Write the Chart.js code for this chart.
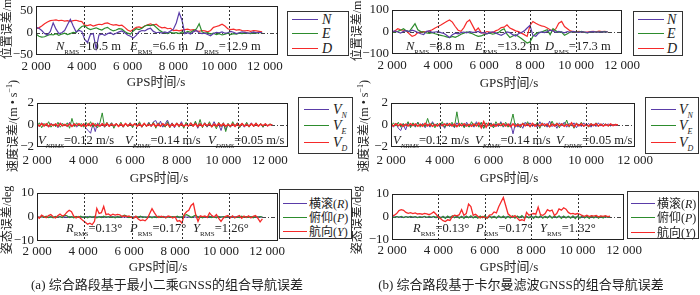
<!DOCTYPE html>
<html><head><meta charset="utf-8">
<script src="https://cdn.jsdelivr.net/npm/chart.js@4.4.0/dist/chart.umd.min.js"></script>
<style>
html,body{margin:0;padding:0;background:#fff;}
#wrap{position:relative;width:700px;height:295px;overflow:hidden;font-family:'Liberation Serif','Noto Sans CJK SC',serif;color:#222;}
#wrap canvas{position:absolute;}
.t{position:absolute;white-space:nowrap;font-size:13px;line-height:13px;}
.sb{font-size:7px;position:relative;top:4px;}
.lg{position:absolute;box-sizing:border-box;border:1px solid #333;background:#fff;}
.lg .ln{position:absolute;height:0;border-top:1.5px solid;}
.lg .lt{position:absolute;white-space:nowrap;font-size:13px;line-height:14px;}
.lg .sb{font-size:8px;}
.yt{position:absolute;white-space:nowrap;font-size:12px;line-height:12px;transform:translate(-50%,-50%) rotate(-90deg);}
</style></head>
<body><div id="wrap"></div>
<script>
// ---------- data ----------
const xTickVals = [2000,4000,6000,8000,10000,12000];
const yTicksPosA = [-50,0,50];
const yTicksPosB = [-100,0,100];
const yTicksVel = [-2,0,2];
const yTicksAtt = [-10,0,10];

const tPos = [2000,2125,2250,2375,2500,2625,2750,2875,3000,3125,3250,3375,3500,3625,3750,3875,4000,4125,4250,4375,4500,4625,4750,4875,5000,5125,5250,5375,5500,5625,5750,5875,6000,6125,6250,6375,6500,6625,6750,6875,7000,7125,7250,7375,7500,7625,7750,7875,8000,8125,8250,8375,8500,8625,8750,8875,9000,9125,9250,9375,9500,9625,9750,9875,10000,10125,10250,10375,10500,10625,10750,10875,11000,11125,11250,11375,11500,11625,11750,11875];
const tFine = [2000,2100,2200,2300,2400,2500,2600,2700,2800,2900,3000,3100,3200,3300,3400,3500,3600,3700,3800,3900,4000,4100,4200,4300,4400,4500,4600,4700,4800,4900,5000,5100,5200,5300,5400,5500,5600,5700,5800,5900,6000,6100,6200,6300,6400,6500,6600,6700,6800,6900,7000,7100,7200,7300,7400,7500,7600,7700,7800,7900,8000,8100,8200,8300,8400,8500,8600,8700,8800,8900,9000,9100,9200,9300,9400,9500,9600,9700,9800,9900,10000,10100,10200,10300,10400,10500,10600,10700,10800,10900,11000,11100,11200,11300,11400,11500,11600,11700,11800,11900,12000,12100];

// (a) least squares GNSS: position errors / m
const posN_a = [12,10,5,-2,-5,3,22,8,-2,0, 5,18,30,15,2,5,3,-15,-22,-4, -2,-36,-5,-3,-6,-2,0,-4,-1,2, 4,0,-5,-8,-12,-6,2,5,4,8, 10,3,0,1,-1,2,0,4,8,22, 45,28,-2,0,-3,2,5,0,-2,-1, -4,-7,-2,1,0,2,-1,0,3,1, -2,0,2,1,-1,0,2,0,1,0];
const posE_a = [-3,-8,-10,-9,-6,-4,-5,-2,-6,-3, -1,-4,-2,1,0,8,14,16,10,7, 9,11,8,6,10,12,7,4,6,9, 8,3,-1,-3,4,9,7,10,15,17, 16,18,12,6,2,0,-2,1,-1,0, -2,2,0,3,1,5,8,20,2,-1, 0,-3,-1,-4,-2,-5,-3,-1,-4,-2, -3,-1,-2,0,-1,-2,0,-1,0,0];
const posD_a = [9,11,15,20,24,27,28,29,27,28, 26,27,25,27,28,26,25,17,16,18, 15,17,19,18,21,22,19,17,18,16, 17,12,6,3,8,12,13,11,15,18, 20,17,19,14,11,12,9,10,5,6, 4,6,7,8,6,7,4,3,5,4, 2,5,12,14,16,19,15,9,7,8, 6,7,5,4,5,3,5,4,3,2];
// (b) Kalman filter GNSS: position errors / m
const posN_b = [2,5,0,-5,3,6,2,8,4,-2, -8,-12,3,5,-2,0,2,-3,-6,-15, -25,-12,-5,-8,-3,0,-4,2,-2,0, 3,-5,-2,-8,-3,1,-4,-10,-15,-8, 0,-3,-12,-18,-8,-2,5,18,30,-15, -20,-5,0,-3,2,8,5,-2,3,0, -4,2,-1,3,0,-2,1,0,-3,1, 2,0,-1,1,0,1];
const posE_b = [-2,0,3,8,15,5,2,20,38,10, 2,0,-4,-6,-3,-8,-12,-15,-18,-22, -26,-20,-24,-18,-10,-5,0,-4,-8,-15, -20,-18,-12,-8,-5,-10,-6,-3,8,15, -10,-25,-18,-12,-20,-30,-40,-50,-45,-20, -8,-2,0,5,10,-12,15,5,-2,0, -15,-8,0,2,-1,0,3,-2,-4,0, 2,-1,0,1,2,0];
const posD_b = [-3,5,15,10,8,5,-8,-20,-15,-3, 0,2,0,5,10,18,25,32,40,48, 55,45,25,8,3,20,45,55,30,5, 18,-2,-5,2,0,-3,5,10,20,22, 33,18,12,5,2,-5,-12,-20,30,48, 40,33,28,25,18,10,5,15,40,48, 25,15,5,2,0,3,1,-2,0,2, 3,1,4,2,3,1];

// velocity errors / (m/s)
const velN_a = [0.1,-0.15,0.2,-0.1,0.05,-0.2,0.15,-0.05,0.1,-0.25, 0.2,-0.1,0.05,-0.15,0.25,-0.1,0.1,-0.2,0.05,-0.1, 0.15,-0.3,-0.5,-0.75,0.1,-0.6,0.2,-0.1,0.15,-0.2, 0.1,-0.05,0.2,-0.15,0.1,-0.1,0.05,-0.2,0.15,-0.1, 0.2,-0.15,0.1,-0.05,0.15,-0.2,0.1,-0.1,0.25,-0.15, 0.3,0.4,-0.1,0.35,-0.2,0.1,0.45,-0.1,0.2,-0.25, 0.15,-0.1,0.3,-0.2,0.1,-0.15,0.2,-0.1,0.25,-0.3, 0.15,-0.1,0.2,-0.2,0.1,-0.15,0.3,-0.1,0.05,-0.5, 0.2,-0.45,0.1,-0.2,0.15,-0.1,0.2,-0.15,0.1,-0.2, 0.15,-0.1,0.2,-0.15,0.1,-0.1,0.05,-0.2,0.1,-0.1, 0.05,0];
const velE_a = [-0.1,0.2,-0.25,0.15,-0.1,0.3,-0.2,0.1,-0.15,0.25, -0.2,0.15,-0.1,0.2,-0.3,0.6,-0.15,0.2,-0.1,0.15, -0.2,0.25,-0.1,0.3,-0.2,0.15,-0.25,0.2,1.1,-0.2, 0.25,-0.15,0.2,-0.3,0.15,-0.1,0.25,-0.2,0.1,-0.15, 0.2,-0.25,0.15,-0.1,0.3,-0.2,0.1,-0.15,0.2,-0.1, 0.25,-0.3,0.2,-0.15,0.1,-0.2,0.3,-0.25,0.15,-0.1, 0.2,-0.2,0.15,-0.3,0.25,-0.1,0.2,-0.15,0.35,-0.2, 0.5,-0.25,0.2,-0.15,0.3,-0.2,0.1,-0.35,0.25,-0.15, 0.2,-0.6,0.15,-0.2,0.3,-0.1,0.2,-0.25,0.15,-0.1, 0.25,-0.2,0.1,-0.15,0.2,-0.1,0.15,-0.2,0.1,-0.05, 0.1,0];
const velD_a = [0.05,-0.1,0.12,-0.08,0.1,-0.12,0.08,-0.05,0.1,-0.1, 0.12,-0.08,0.05,-0.1,0.08,-0.12,0.1,-0.05,0.12,-0.1, 0.08,-0.12,0.1,-0.08,0.15,-0.1,0.05,-0.12,0.1,-0.08, 0.12,-0.1,0.08,-0.05,0.1,-0.12,0.08,-0.1,0.12,-0.08, 0.1,-0.05,0.12,-0.1,0.08,-0.12,0.15,-0.1,0.05,-0.08, 0.1,-0.12,0.08,-0.1,0.12,-0.05,0.1,-0.15,0.08,-0.1, 0.12,-0.08,0.1,-0.12,0.05,-0.1,0.15,-0.08,0.1,-0.12, 0.08,-0.1,0.12,-0.05,0.1,-0.15,0.08,-0.1,0.12,-0.08, 0.1,-0.12,0.05,-0.1,0.08,-0.12,0.1,-0.08,0.12,-0.1, 0.05,-0.12,0.1,-0.08,0.12,-0.1,0.08,-0.05,0.1,-0.08, 0.05,0];
const velN_b = [0.1,-0.2,0.15,-0.3,-0.5,0.1,-0.45,0.2,-0.15,0.1, -0.2,0.25,-0.1,0.15,-0.25,0.1,-0.2,0.3,-0.1,0.15, -0.2,0.1,-0.3,0.2,-0.15,0.1,-0.25,0.2,-0.1,0.15, -0.2,0.25,-0.15,0.1,-0.2,0.3,-0.1,0.2,-0.3,0.15, -0.1,0.2,-0.25,0.1,-0.15,0.3,-0.2,0.1,-0.15,0.2, -0.8,0.15,-0.2,0.1,-0.3,0.25,-0.1,0.2,-0.15,0.1, -0.25,0.3,-0.1,0.15,-0.2,0.35,-0.15,0.1,-0.3,0.2, -0.1,0.25,-0.2,0.15,-0.1,0.2,-0.25,0.1,-0.15,0.2, -0.1,0.15,-0.2,0.1,-0.15,0.2,-0.1,0.15,-0.05,0.1, -0.1,0.05,-0.05,0];
const velE_b = [-0.15,0.2,-0.1,0.25,-0.2,0.15,-0.1,0.3,-0.25,0.2, -0.15,0.25,-0.2,0.1,-0.15,0.6,-0.1,0.2,-0.25,0.15, -0.1,0.3,-0.2,0.15,-0.1,0.25,-0.2,1.2,-0.15,0.2, -0.25,0.1,-0.2,0.3,-0.1,0.15,-0.2,0.25,-0.3,0.2, -0.1,0.15,-0.25,0.3,-0.1,0.2,-0.15,0.25,-0.2,0.1, 1.0,-0.2,0.15,-0.25,0.2,-0.1,0.3,-0.2,0.15,-0.1, 0.25,-0.3,0.2,-0.15,0.1,-0.2,0.35,-0.1,0.2,-0.25, 0.15,-0.1,0.45,-0.2,0.15,-0.3,0.2,-0.1,0.25,-0.15, 0.1,-0.2,0.15,-0.1,0.2,-0.15,0.1,-0.05,0.1,-0.1, 0.05,-0.05,0.05,0];
const velD_b = [0.05,-0.1,0.12,-0.08,0.1,-0.12,0.08,-0.1,0.12,-0.05, 0.1,-0.12,0.08,-0.1,0.15,-0.08,0.1,-0.12,0.05,-0.1, 0.12,-0.08,0.1,-0.05,0.12,-0.1,0.08,-0.15,0.1,-0.08, 0.12,-0.1,0.05,-0.12,0.1,-0.08,0.2,-0.25,0.3,-0.2, 0.15,-0.1,0.08,-0.12,0.1,-0.05,0.12,-0.1,0.08,-0.15, 0.1,-0.12,0.05,-0.1,0.12,-0.08,0.1,-0.12,0.15,-0.1, 0.08,-0.1,0.12,-0.05,0.1,-0.15,0.08,-0.1,0.12,-0.08, 0.1,-0.12,0.05,-0.1,0.2,-0.15,0.1,-0.08,0.12,-0.1, 0.08,-0.12,0.1,-0.05,0.12,-0.1,0.08,-0.1,0.05,-0.08, 0.1,-0.05,0.05,0];

// attitude errors / deg
const roll_a = [0.05,-0.1,0.1,-0.05,0.12,-0.1,0.05,-0.15,0.1,-0.05, 0.1,-0.12,0.08,-0.1,0.15,-0.05,0.1,-0.1,0.05,-0.12, 0.1,-0.08,0.12,-0.1,0.05,-0.15,0.1,-0.05,0.12,-0.1, 0.08,-0.1,0.15,-0.05,0.1,-0.12,0.05,-0.1,0.1,-0.08, 0.12,-0.1,0.05,-0.15,0.1,-0.05,0.12,-0.1,0.08,-0.12, 0.1,-0.05,0.15,-0.1,0.05,-0.12,0.1,-0.08,0.12,-0.1, 0.05,-0.15,0.1,-0.05,0.12,-0.1,0.08,-0.12,0.1,-0.05, 0.15,-0.1,0.05,-0.12,0.1,-0.08,0.12,-0.1,0.05,-0.15, 0.1,-0.05,0.12,-0.1,0.08,-0.12,0.1,-0.05,0.15,-0.1, 0.05,-0.12,0.1,-0.08,0.12,-0.1,0.05,-0.05,0];
const pitch_a = [0.1,-0.2,0.2,-0.1,0.3,-0.2,0.1,-0.3,0.2,-0.1, 0.2,-0.2,0.8,0.5,-0.2,0.1,-0.3,0.2,-0.1,0.3, -0.2,0.1,-0.3,0.2,-0.1,0.2,-0.3,0.1,-0.2,0.3, -0.1,0.2,-0.2,0.1,-0.3,0.2,-0.1,0.3,0.8,0.4, -0.2,0.1,-0.3,0.2,-0.1,0.3,-0.2,0.1,-0.2,0.2, -0.3,0.1,-0.2,0.3,-0.1,0.2,-0.3,0.1,-0.2,0.2, -0.1,0.3,-0.2,0.1,0.6,1.0,0.5,-0.2,0.3,0.8, -0.2,0.1,-0.3,0.2,-0.1,0.3,-0.2,0.1,-0.3,0.2, -0.1,0.2,-0.2,0.3,-0.1,0.2,-0.3,0.1,-0.2,0.3, -0.1,0.2,-0.2,0.1,-0.3,0.2,-0.1,0.2,0];
const yaw_a = [0.3,-0.5,0.8,0.2,-0.3,0.6,1.0,0.1,-0.4,0.5, 1.2,0.4,0.8,2.0,2.8,2.2,0.3,-0.4,0.2,-0.6, -1.5,-2.2,-3.0,-2.6,-3.2,-1.8,3.6,1.5,1.8,4.4, 1.0,1.3,0.6,1.2,0.8,1.1,0.9,0.2,0.5,0.2, 0.4,-0.2,-0.5,0.3,-0.8,-1.5,-1.2,-1.6,-0.6,1.5, 3.5,1.8,0.4,-0.2,0.3,0.1,-0.3,0.4,0.2,-0.4, 0.1,-1.8,-1.5,-2.6,1.0,2.2,2.8,4.8,5.6,1.0, -1.8,0.5,0.2,0.4,-0.2,1.7,0.6,0.0,1.0,-0.6, -1.8,-0.5,0.3,0.6,-0.4,0.5,-0.3,0.2,0.6,-0.5, 0.4,-0.2,0.5,-0.4,0.3,0.6,-0.5,-2.0,-0.8];
const roll_b = [0.1,-0.05,0.12,-0.1,0.05,-0.12,0.1,-0.08,0.15,-0.1, 0.05,-0.12,0.1,-0.05,0.12,-0.1,0.08,-0.15,0.1,-0.05, 0.12,-0.1,0.05,-0.12,0.1,-0.08,0.15,-0.1,0.05,-0.12, 0.1,-0.05,0.12,-0.1,0.08,-0.12,0.1,-0.05,0.15,-0.1, 0.05,-0.12,0.1,-0.08,0.12,-0.1,0.05,-0.15,0.1,-0.05, 0.12,-0.1,0.08,-0.12,0.1,-0.05,0.15,-0.1,0.05,-0.12, 0.1,-0.08,0.12,-0.1,0.05,-0.12,0.1,-0.05,0.15,-0.1, 0.08,-0.12,0.1,-0.05,0.12,-0.1,0.05,-0.15,0.1,-0.08, 0.12,-0.1,0.05,-0.12,0.1,-0.05,0.15,-0.1,0.08,-0.12, 0.1,-0.05,0.1,-0.08,0];
const pitch_b = [0.1,-0.2,0.2,-0.1,0.3,-0.3,0.2,-0.2,0.3,-0.1, 0.2,-0.3,0.1,-0.2,0.3,-0.2,0.2,-0.1,0.3,-0.3, 0.4,-0.5,0.3,-0.6,0.4,-0.4,0.5,-0.3,0.4,-0.5, 0.3,-0.6,0.4,-0.3,0.5,-0.4,0.3,-0.5,0.4,-0.3, 0.5,-0.6,0.4,-0.4,0.3,-0.5,0.5,-0.3,0.4,-0.6, 0.3,-0.4,0.5,-0.5,0.4,-0.3,0.6,-0.5,0.3,-0.4, 0.5,-0.6,0.4,-0.3,0.5,-0.5,0.3,-0.4,0.6,-0.5, 0.4,-0.3,0.5,-0.6,0.4,-0.4,0.3,-0.5,0.5,-0.7, 0.4,-0.5,0.6,-0.4,0.3,-0.6,0.5,-0.4,0.4,-0.5, 0.3,-0.4,0.3,-0.2,0.1];
const yaw_b = [0.2,0.8,1.5,2.8,3.2,2.9,2.0,1.6,1.9,1.5, 1.8,1.3,1.5,1.2,1.6,1.4,1.0,1.5,2.2,1.2, 0.0,-0.8,-1.6,-2.0,-1.2,-1.5,0.2,0.8,0.5,1.0, 3.2,0.8,1.5,5.6,4.5,0.7,1.2,0.3,-0.4,0.2, -0.3,-0.5,0.8,1.0,2.2,1.8,4.5,6.5,8.5,5.0, 1.4,0.5,0.0,0.6,-0.5,-1.5,-1.2,-1.6,2.0,0.8, 1.2,1.5,1.2,4.3,1.0,0.7,1.5,3.2,2.6,3.0, 0.7,1.5,3.5,3.0,4.0,3.4,2.0,1.4,1.6,1.2, 1.5,1.2,0.6,0.3,0.8,0.2,0.6,0.4,0.7,0.1, 0.5,0.3,0.6,0.2,0.4];

// dotted segment markers (GPS time)
const segPos_a = [4109,6205,8362,10441];
const segVel_a = [4060,6249,8438,10627];
const segAtt_a = [4057,6143,8291,10361];
const segStd = [4000,6000,8000,10000];

// ---------- drawing ----------
const FONT = "'Liberation Serif', serif";
const C_N = '#5a3ca8', C_E = '#2d8c2d', C_D = '#f52a2a';
const wrap = document.getElementById('wrap');

function fmtX(v){ const s = String(v); return s.length > 3 ? s.slice(0,-3) + ' ' + s.slice(-3) : s; }
function fmtY(v){ return v < 0 ? '\u2212' + (-v) : String(v); }

function framePlugin(marks){
  return {
    id: 'frame',
    beforeDatasetsDraw(chart){
      const {ctx, chartArea:a, scales:{y}} = chart;
      const y0 = Math.round(y.getPixelForValue(0)) + 0.5;
      ctx.save(); ctx.strokeStyle = '#444'; ctx.lineWidth = 1; ctx.setLineDash([4,2,1,2]);
      ctx.beginPath(); ctx.moveTo(a.left, y0); ctx.lineTo(a.right, y0); ctx.stroke(); ctx.restore();
    },
    afterDatasetsDraw(chart){
      const {ctx, chartArea:a, scales:{x}} = chart;
      ctx.save(); ctx.strokeStyle = '#333'; ctx.lineWidth = 1; ctx.setLineDash([2,2]);
      marks.forEach(v => { const px = Math.round(x.getPixelForValue(v)) + 0.5;
        ctx.beginPath(); ctx.moveTo(px, a.top); ctx.lineTo(px, a.bottom); ctx.stroke(); });
      ctx.setLineDash([]); ctx.strokeStyle = '#222';
      ctx.strokeRect(Math.round(a.left) + 0.5, Math.round(a.top) + 0.5, Math.round(a.width) - 1, Math.round(a.height) - 1);
      ctx.restore();
    }
  };
}

function makePlot(cfg){
  const yW = 34, padT = 6, padR = 26, xH = 24;
  const [L,T,R,B] = cfg.box;
  const bw = R - L, bh = B - T;
  const c = document.createElement('canvas');
  c.width = yW + bw + padR; c.height = padT + bh + xH;
  c.style.left = (L - yW) + 'px'; c.style.top = (T - padT) + 'px';
  c.style.width = c.width + 'px'; c.style.height = c.height + 'px';
  wrap.appendChild(c);
  new Chart(c, {
    type: 'line',
    data: { datasets: cfg.series.map(s => ({
      data: s.v.map((y,i) => ({x: cfg.t[i], y})),
      borderColor: s.color, borderWidth: s.w, pointRadius: 0, tension: 0, fill: false, order: s.order })) },
    options: {
      responsive: false, animation: false, devicePixelRatio: 1,
      layout: { padding: { top: padT, right: padR, left: 0, bottom: 0 } },
      plugins: { legend: { display: false }, tooltip: { enabled: false } },
      scales: {
        x: { type: 'linear', min: cfg.xr[0], max: cfg.xr[1],
          grid: { display: false, drawTicks: false }, border: { display: false },
          afterBuildTicks: s => { s.ticks = xTickVals.filter(v => v <= cfg.xr[1] + 1).map(v => ({value: v})); },
          afterFit: s => { s.height = xH; s.paddingLeft = 0; s.paddingRight = 0; },
          ticks: { font: { family: FONT, size: 13 }, color: '#222', padding: cfg.xpad, maxRotation: 0, autoSkip: false, callback: v => fmtX(v) } },
        y: { type: 'linear', min: cfg.yr[0], max: cfg.yr[1],
          grid: { display: false, drawTicks: false }, border: { display: false },
          afterBuildTicks: s => { s.ticks = cfg.yt.map(v => ({value: v})); },
          afterFit: s => { s.width = yW; s.paddingTop = 0; s.paddingBottom = 0; },
          ticks: { font: { family: FONT, size: 13 }, color: '#222', padding: 3, autoSkip: false, callback: v => fmtY(v) } }
      }
    },
    plugins: [framePlugin(cfg.marks)]
  });
}

// position
makePlot({ box:[36,6,278,55], xr:[2000,12568], yr:[-50,60], yt:yTicksPosA, xpad:4, marks:segPos_a, t:tPos,
  series:[{v:posN_a,color:C_N,w:1.2,order:0},{v:posE_a,color:C_E,w:1.2,order:1},{v:posD_a,color:C_D,w:1.2,order:2}] });
makePlot({ box:[392,10,622,54], xr:[2000,12000], yr:[-100,100], yt:yTicksPosB, xpad:4, marks:segStd, t:tPos.slice(0,76),
  series:[{v:posN_b,color:C_N,w:1.2,order:0},{v:posE_b,color:C_E,w:1.2,order:1},{v:posD_b,color:C_D,w:1.2,order:2}] });
// velocity
makePlot({ box:[37,103,288,147], xr:[2000,12773], yr:[-2,2], yt:yTicksVel, xpad:6, marks:segVel_a, t:tFine,
  series:[{v:velN_a,color:C_N,w:1,order:2},{v:velE_a,color:C_E,w:1,order:1},{v:velD_a,color:C_D,w:1.5,order:0}] });
makePlot({ box:[391,103,635,147], xr:[2000,12000], yr:[-2,2], yt:yTicksVel, xpad:6, marks:segStd, t:tFine.slice(0,94),
  series:[{v:velN_b,color:C_N,w:1,order:2},{v:velE_b,color:C_E,w:1,order:1},{v:velD_b,color:C_D,w:1.5,order:0}] });
// attitude
makePlot({ box:[37,193,278,241], xr:[2000,12478], yr:[-10,10], yt:yTicksAtt, xpad:3, marks:segAtt_a, t:tFine.slice(0,99),
  series:[{v:roll_a,color:C_N,w:1.2,order:2},{v:pitch_a,color:C_E,w:1.2,order:1},{v:yaw_a,color:C_D,w:1.3,order:0}] });
makePlot({ box:[392,194,624,240], xr:[2000,12000], yr:[-10,10], yt:yTicksAtt, xpad:3, marks:segStd, t:tFine.slice(0,95),
  series:[{v:roll_b,color:C_N,w:1.2,order:2},{v:pitch_b,color:C_E,w:1.2,order:1},{v:yaw_b,color:C_D,w:1.3,order:0}] });

// ---------- text ----------
function txt(html, x, cy, anchor, size){
  const d = document.createElement('div'); d.className = 't'; d.innerHTML = html;
  const h = size || 13;
  d.style.fontSize = h + 'px'; d.style.lineHeight = h + 'px';
  d.style.top = (cy - h/2) + 'px';
  d.style.left = x + 'px';
  if (anchor === 'c') d.style.transform = 'translateX(-50%)';
  wrap.appendChild(d);
}
function ytitle(html, cx, cy){
  const d = document.createElement('div'); d.className = 'yt'; d.innerHTML = html;
  d.style.left = cx + 'px'; d.style.top = cy + 'px'; wrap.appendChild(d);
}
function legend(x, y, w, h, rows, lx, lw, tx, items, size){
  const d = document.createElement('div'); d.className = 'lg';
  d.style.cssText = `left:${x}px;top:${y}px;width:${w}px;height:${h}px`;
  items.forEach((it, i) => {
    const ln = document.createElement('div'); ln.className = 'ln';
    ln.style.cssText = `left:${lx}px;top:${rows[i]-1}px;width:${lw}px;border-top-color:${it.color}`;
    const lt = document.createElement('div'); lt.className = 'lt'; lt.innerHTML = it.html;
    lt.style.cssText = `left:${tx}px;top:${rows[i]-7}px;font-size:${size}px`;
    d.appendChild(ln); d.appendChild(lt);
  });
  wrap.appendChild(d);
}

const rms = s => `<span class="sb">${s}</span>`;
const A = 12.5;
// annotations
txt(`<i>N</i>${rms('RMS')}=10.5 m`, 56, 46.5, 'l', A);
txt(`<i>E</i>${rms('RMS')}=6.6 m`, 130, 46.5, 'l', A);
txt(`<i>D</i>${rms('RMS')}=12.9 m`, 195, 46.5, 'l', A);
txt(`<i>N</i>${rms('RMS')}=8.8 m`, 406, 46.5, 'l', A);
txt(`<i>E</i>${rms('RMS')}=13.2 m`, 475, 46.5, 'l', A);
txt(`<i>D</i>${rms('RMS')}=17.3 m`, 545, 46.5, 'l', A);
txt(`<i>V</i>${rms('<i>NRMS</i>')}=0.12 m/s`, 38, 140, 'l', A);
txt(`<i>V</i>${rms('<i>ERMS</i>')}=0.14 m/s`, 125, 140, 'l', A);
txt(`<i>V</i>${rms('<i>DRMS</i>')}=0.05 m/s`, 208, 140, 'l', A);
txt(`<i>V</i>${rms('<i>NRMS</i>')}=0.12 m/s`, 393, 140, 'l', A);
txt(`<i>V</i>${rms('<i>ERMS</i>')}=0.14 m/s`, 475, 140, 'l', A);
txt(`<i>V</i>${rms('<i>DRMS</i>')}=0.05 m/s`, 556, 140, 'l', A);
txt(`<i>R</i>${rms('RMS')}=0.13°`, 66, 228.3, 'l', A);
txt(`<i>P</i>${rms('RMS')}=0.17°`, 130, 228.3, 'l', A);
txt(`<i>Y</i>${rms('RMS')}=1.26°`, 193, 228.3, 'l', A);
txt(`<i>R</i>${rms('RMS')}=0.13°`, 413, 228, 'l', A);
txt(`<i>P</i>${rms('RMS')}=0.17°`, 476, 228, 'l', A);
txt(`<i>Y</i>${rms('RMS')}=1.32°`, 540, 228, 'l', A);

// axis titles
txt('GPS时间/s', 156, 81.7, 'c');
txt('GPS时间/s', 509, 82, 'c');
txt('GPS时间/s', 159, 177, 'c');
txt('GPS时间/s', 509, 177, 'c');
txt('GPS时间/s', 158, 266, 'c');
txt('GPS时间/s', 509, 266, 'c');
ytitle('位置误差/m', 7, 29);
ytitle('位置误差/m', 357, 31);
ytitle('速度误差/(m • s<sup style="font-size:8px">−1</sup>)', 11, 126);
ytitle('速度误差/(m • s<sup style="font-size:8px">−1</sup>)', 362, 126);
ytitle('姿态误差/deg', 7, 220);
ytitle('姿态误差/deg', 357, 220);
txt('(a) 综合路段基于最小二乘GNSS的组合导航误差', 167, 284, 'c');
txt('(b) 综合路段基于卡尔曼滤波GNSS的组合导航误差', 521, 284, 'c');

// legends
const posItems = [{color:C_N,html:'<i>N</i>'},{color:C_E,html:'<i>E</i>'},{color:C_D,html:'<i>D</i>'}];
const velItems = [{color:C_N,html:'<i>V</i><span class="sb"><i>N</i></span>'},{color:C_E,html:'<i>V</i><span class="sb"><i>E</i></span>'},{color:C_D,html:'<i>V</i><span class="sb"><i>D</i></span>'}];
const attItems = [{color:C_N,html:'横滚(<i>R</i>)'},{color:C_E,html:'俯仰(<i>P</i>)'},{color:C_D,html:'航向(<i>Y</i>)'}];
legend(287, 11, 62, 45, [7.5,21.5,36.5], 4, 26, 34, posItems, 14);
legend(633, 11, 50, 45, [7.5,21.5,36.5], 4, 26, 33, posItems, 14);
legend(298, 97, 55, 57, [11.5,28,44.5], 5, 25, 34, velItems, 14);
legend(645, 97, 54, 57, [11.5,28,44.5], 5, 25, 33, velItems, 14);
legend(279, 189, 73, 50, [14,28,42], 3, 24, 29, attItems, 12);
legend(627, 191, 72, 48, [12,26,40.5], 3, 24, 29, attItems, 12);
</script>
</body></html>
